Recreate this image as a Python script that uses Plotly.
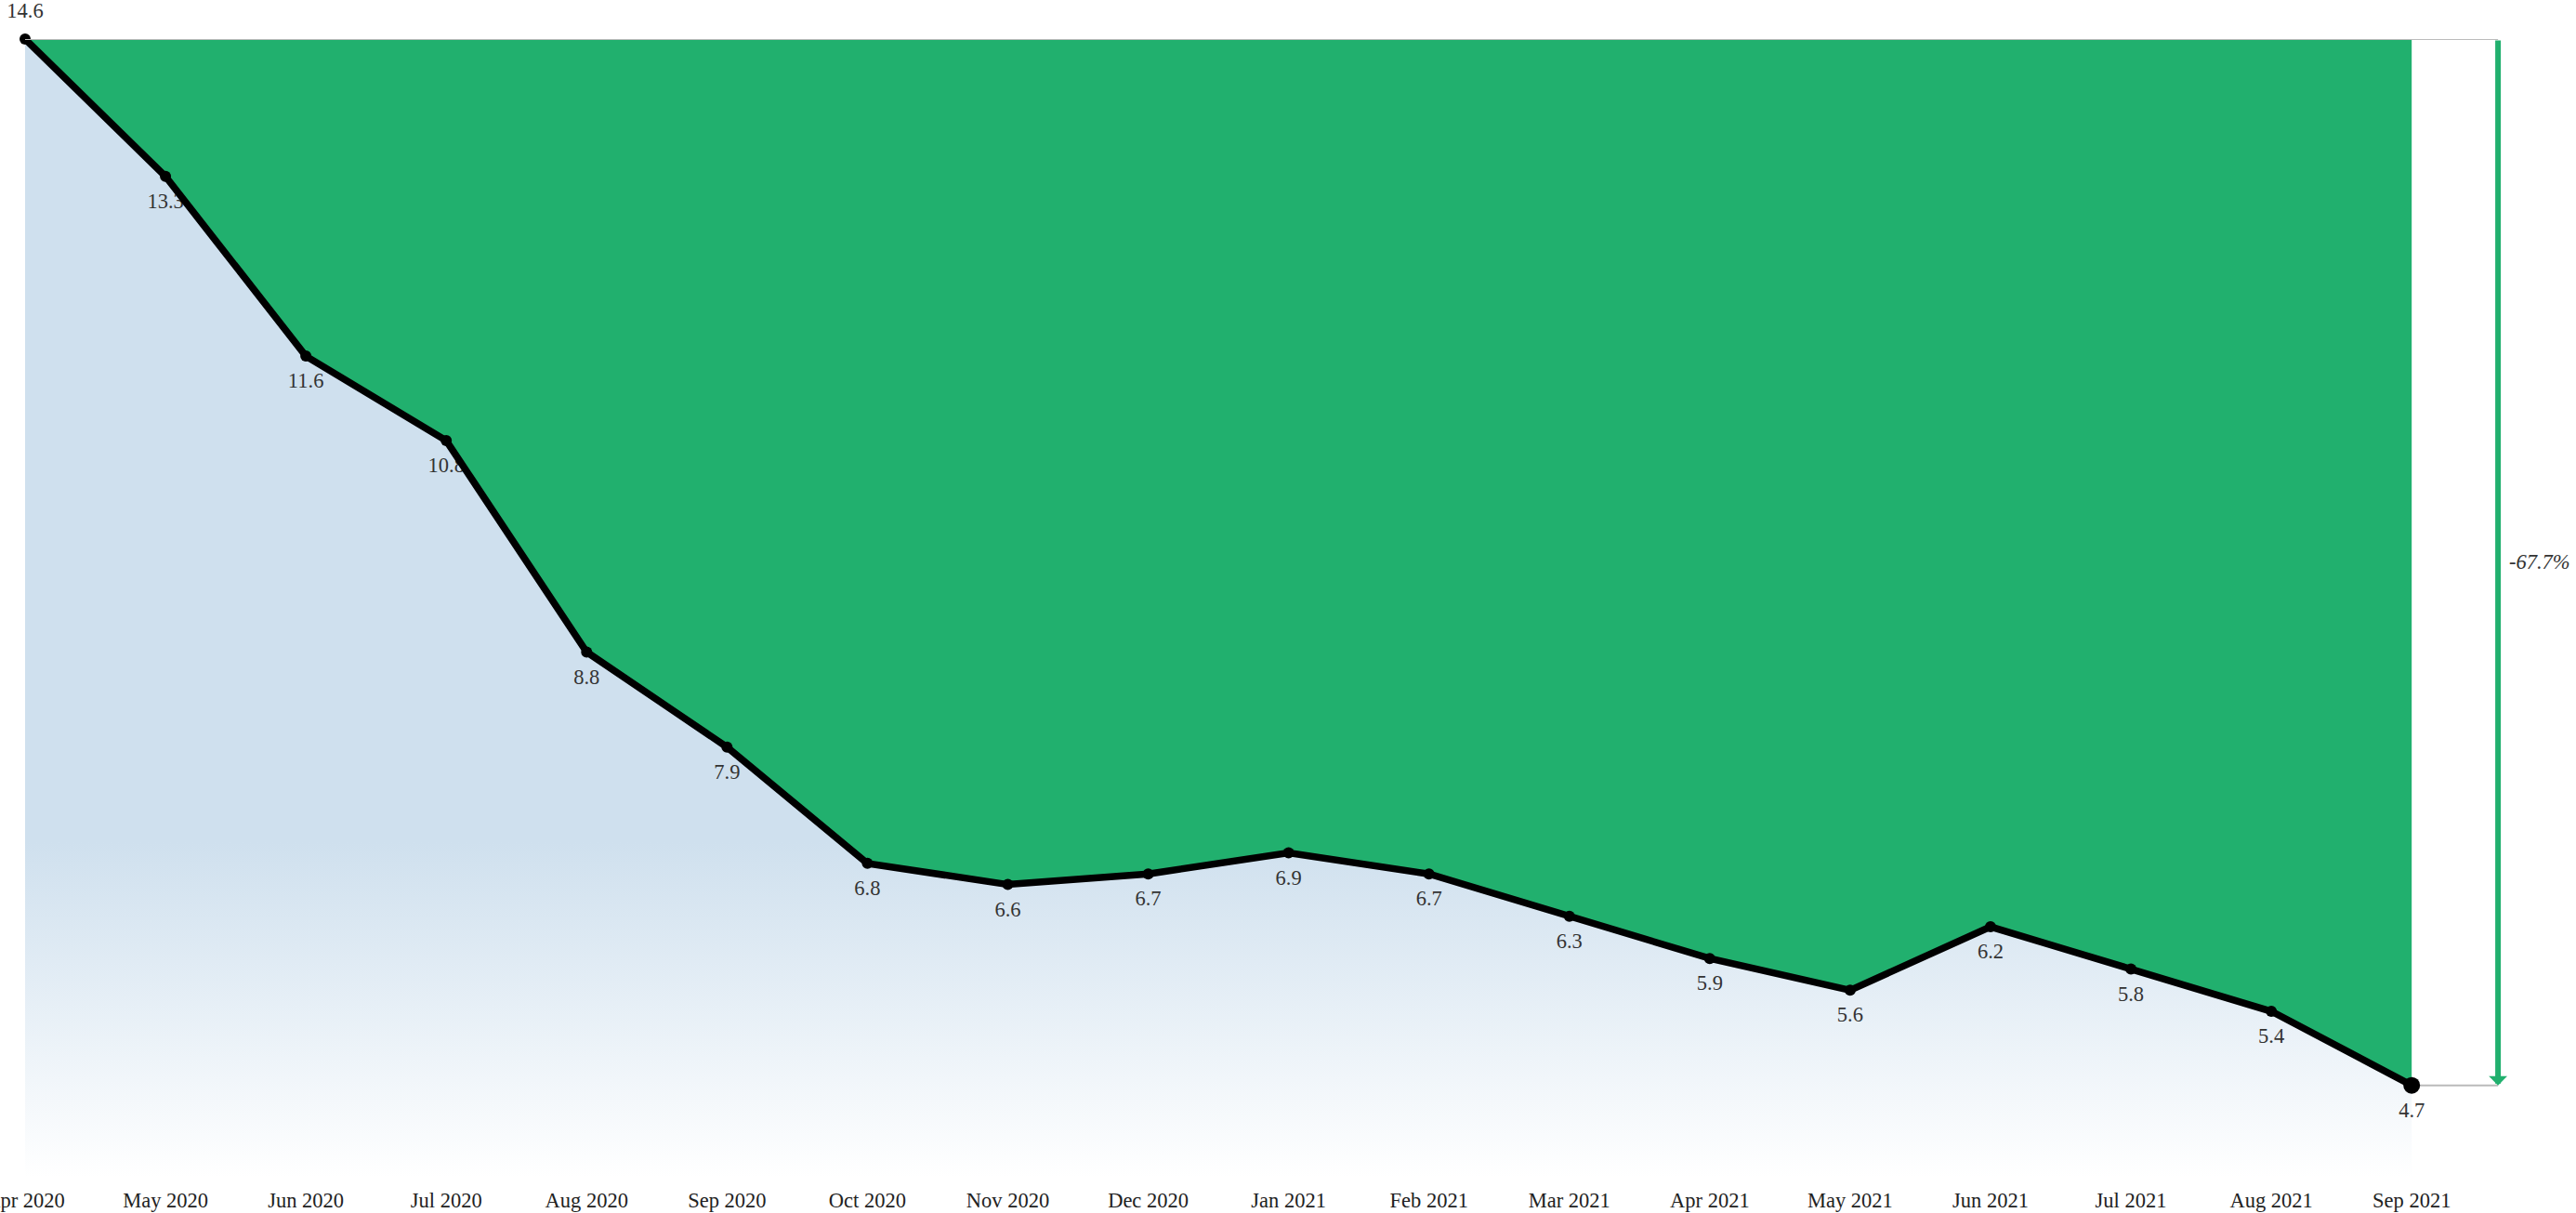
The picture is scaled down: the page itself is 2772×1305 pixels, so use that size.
import plotly.graph_objects as go

months = ["Apr 2020", "May 2020", "Jun 2020", "Jul 2020", "Aug 2020", "Sep 2020",
          "Oct 2020", "Nov 2020", "Dec 2020", "Jan 2021", "Feb 2021", "Mar 2021",
          "Apr 2021", "May 2021", "Jun 2021", "Jul 2021", "Aug 2021", "Sep 2021"]
values = [14.6, 13.3, 11.6, 10.8, 8.8, 7.9, 6.8, 6.6, 6.7, 6.9, 6.7, 6.3,
          5.9, 5.6, 6.2, 5.8, 5.4, 4.7]
change_label = "-67.7%"

W, H = 2772, 1305
mt, mb, ml, mr = 42, 38, 27, 0
px_per_unit = 113.7
plot_h = H - mt - mb
ymax = values[0]
ymin = ymax - plot_h / px_per_unit

xi = list(range(len(months)))
n = len(months)
plot_w = W - ml - mr
px_per_month = 151.07
xmax = plot_w / px_per_month
arrow_x = (n - 1) + 0.615

GREEN = "#21B06E"
TXT = "#333333"
FONT = "Liberation Serif"
FS = 22.5

fig = go.Figure()

# lower area with vertical gradient + value labels
fig.add_trace(go.Scatter(
    x=xi, y=values, mode="markers+text", fill="tozeroy",
    fillgradient=dict(type="vertical", start=ymin, stop=7.0,
                      colorscale=[[0, "#ffffff"], [1, "rgb(207,224,238)"]]),
    marker=dict(size=26, color="rgba(0,0,0,0)", line=dict(width=0)),
    text=[f"{v:.1f}" for v in values],
    textposition=["top center"] + ["bottom center"] * (n - 1),
    textfont=dict(family=FONT, size=FS, color=TXT),
    cliponaxis=False, hoverinfo="skip", showlegend=False))

# top reference (invisible) for green fill
fig.add_trace(go.Scatter(
    x=xi, y=[ymax] * n, mode="lines", line=dict(width=0, color="rgba(0,0,0,0)"),
    hoverinfo="skip", showlegend=False))

# green region and main line
fig.add_trace(go.Scatter(
    x=xi, y=values, mode="lines+markers", fill="tonexty", fillcolor=GREEN,
    line=dict(color="black", width=7.5),
    marker=dict(color="#000000", opacity=1, size=[12] * (n - 1) + [18],
                line=dict(width=0)),
    cliponaxis=False, showlegend=False))

# grey reference lines
fig.add_shape(type="line", x0=0, x1=arrow_x, y0=ymax, y1=ymax,
              line=dict(color="#bbbbbb", width=2), layer="above")
fig.add_shape(type="line", x0=n - 1, x1=arrow_x, y0=values[-1], y1=values[-1],
              line=dict(color="#bbbbbb", width=2), layer="below")

# arrow
fig.add_annotation(x=arrow_x, y=values[-1], ax=arrow_x, ay=ymax,
                   xref="x", yref="y", axref="x", ayref="y",
                   showarrow=True, arrowhead=1, arrowsize=0.55, arrowwidth=6,
                   arrowcolor=GREEN, text="")
fig.add_annotation(x=arrow_x, y=(ymax + values[-1]) / 2, xref="x", yref="y",
                   text=f"<i>{change_label}</i>", showarrow=False,
                   xanchor="left", xshift=10,
                   font=dict(family=FONT, size=FS, color=TXT))

fig.update_layout(
    width=W, height=H,
    margin=dict(l=ml, r=mr, t=mt, b=mb, autoexpand=False),
    paper_bgcolor="white", plot_bgcolor="white",
    xaxis=dict(range=[0, xmax], tickvals=xi, ticktext=months, showgrid=False,
               zeroline=False, showline=False, ticks="", automargin=False,
               ticklabeloverflow="allow", ticklabelstandoff=8,
               tickfont=dict(family=FONT, size=FS, color="#222222")),
    yaxis=dict(range=[ymin, ymax], visible=False, showgrid=False, zeroline=False,
               automargin=False),
    font=dict(family=FONT),
)

fig.write_html("out.html", config={"displayModeBar": False},
               post_script="document.body.style.margin='0';document.body.style.overflow='hidden';")
